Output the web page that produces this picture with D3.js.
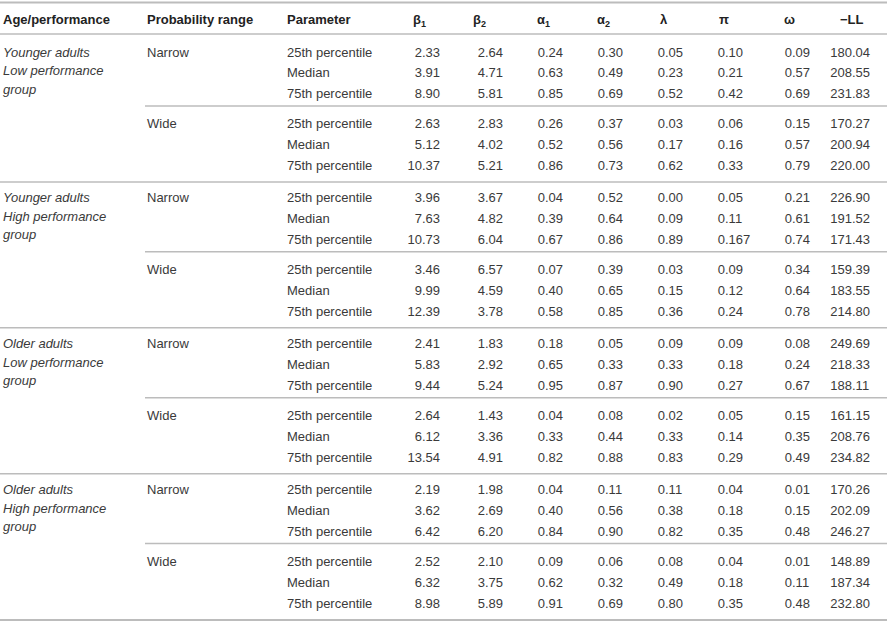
<!DOCTYPE html>
<html>
<head>
<meta charset="utf-8">
<script src="https://cdn.jsdelivr.net/npm/d3@7"></script>
<style>
  html, body { margin: 0; padding: 0; background: #fff; }
  svg text { font-family: "Liberation Sans", Arial, Helvetica, sans-serif; }
</style>
</head>
<body>
<div id="table"></div>
<script>
// Dades de la taula: grups, rangs, paràmetres i una llista per columna
const ageGroups = [
  ["Younger adults", "Low performance", "group"],
  ["Younger adults", "High performance", "group"],
  ["Older adults", "Low performance", "group"],
  ["Older adults", "High performance", "group"]
];
const ranges = ["Narrow", "Wide"];
const params = ["25th percentile", "Median", "75th percentile"];

const beta1  = ["2.33","3.91","8.90","2.63","5.12","10.37","3.96","7.63","10.73","3.46","9.99","12.39","2.41","5.83","9.44","2.64","6.12","13.54","2.19","3.62","6.42","2.52","6.32","8.98"];
const beta2  = ["2.64","4.71","5.81","2.83","4.02","5.21","3.67","4.82","6.04","6.57","4.59","3.78","1.83","2.92","5.24","1.43","3.36","4.91","1.98","2.69","6.20","2.10","3.75","5.89"];
const alpha1 = ["0.24","0.63","0.85","0.26","0.52","0.86","0.04","0.39","0.67","0.07","0.40","0.58","0.18","0.65","0.95","0.04","0.33","0.82","0.04","0.40","0.84","0.09","0.62","0.91"];
const alpha2 = ["0.30","0.49","0.69","0.37","0.56","0.73","0.52","0.64","0.86","0.39","0.65","0.85","0.05","0.33","0.87","0.08","0.44","0.88","0.11","0.56","0.90","0.06","0.32","0.69"];
const lambda = ["0.05","0.23","0.52","0.03","0.17","0.62","0.00","0.09","0.89","0.03","0.15","0.36","0.09","0.33","0.90","0.02","0.33","0.83","0.11","0.38","0.82","0.08","0.49","0.80"];
const piVals = ["0.10","0.21","0.42","0.06","0.16","0.33","0.05","0.11","0.167","0.09","0.12","0.24","0.09","0.18","0.27","0.05","0.14","0.29","0.04","0.18","0.35","0.04","0.18","0.35"];
const omega  = ["0.09","0.57","0.69","0.15","0.57","0.79","0.21","0.61","0.74","0.34","0.64","0.78","0.08","0.24","0.67","0.15","0.35","0.49","0.01","0.15","0.48","0.01","0.11","0.48"];
const negLL  = ["180.04","208.55","231.83","170.27","200.94","220.00","226.90","191.52","171.43","159.39","183.55","214.80","249.69","218.33","188.11","161.15","208.76","234.82","170.26","202.09","246.27","148.89","187.34","232.80"];

// Capçaleres: [lletra, subíndex]
const headers = [["β","1"],["β","2"],["α","1"],["α","2"],["λ",""],["π",""],["ω",""],["−LL",""]];
const columns = [beta1, beta2, alpha1, alpha2, lambda, piVals, omega, negLL];

const W = 887, H = 622;
const lineColor = "#bcbcbc";
const textColor = "#3a3a3a";

const svg = d3.select("#table").append("svg")
    .attr("width", W)
    .attr("height", H);

// Files: índex de grup, rang i paràmetre, i posició en "ranures" (amb espais entre blocs)
const rows = [];
ageGroups.forEach((g, gi) => {
    ranges.forEach((r, ri) => {
        params.forEach((p, pi) => {
            const i = rows.length;
            const slot = i + (gi * 2 + ri - gi) * 0.473 + gi * 0.57;
            rows.push({ i, gi, ri, pi, slot });
        });
    });
});

const lastSlot = rows[rows.length - 1].slot;
const y = d3.scaleLinear().domain([0, lastSlot]).range([52, 603]);

// Columnes: x del punt decimal i x de la capçalera
const colX = d3.scalePoint().domain(d3.range(columns.length)).range([0, 1]);
const decX = [422, 485, 545, 605, 665, 725, 792, 852];
const headX = [413, 473, 537, 597, 660, 719, 784, 840];

// Línies horitzontals
const hline = (x1, yy, w) => svg.append("line")
    .attr("x1", x1).attr("x2", W)
    .attr("y1", yy).attr("y2", yy)
    .attr("stroke", lineColor)
    .attr("stroke-width", w);

hline(0, 2.5, 2);
hline(0, 34, 1.5);
rows.filter(d => d.pi === 0).forEach(d => {
    if (d.ri === 1) hline(145, y(d.slot) - 18, 1.5);
    else if (d.gi > 0) hline(0, y(d.slot) - 16, 1.5);
});
hline(0, y(lastSlot) + 17, 2);

// Capçalera
const head = svg.append("g")
    .attr("font-weight", "bold")
    .attr("font-size", 13)
    .attr("fill", "#222");

head.append("text").attr("x", 3).attr("y", 19).attr("dy", "0.35em").text("Age/performance");
head.append("text").attr("x", 147).attr("y", 19).attr("dy", "0.35em").text("Probability range");
head.append("text").attr("x", 287).attr("y", 19).attr("dy", "0.35em").text("Parameter");

headers.forEach((h, k) => {
    const t = head.append("text")
        .attr("x", headX[k]).attr("y", 19).attr("dy", "0.35em");
    t.append("tspan").text(h[0]);
    if (h[1]) {
        t.append("tspan")
            .attr("font-size", 9)
            .attr("dy", "0.35em")
            .text(h[1]);
    }
});

// Cos de la taula
const body = svg.append("g")
    .attr("font-size", 13)
    .attr("fill", textColor);

// Etiquetes de grup (cursiva, tres línies)
rows.filter(d => d.ri === 0 && d.pi === 0).forEach(d => {
    ageGroups[d.gi].forEach((line, li) => {
        body.append("text")
            .attr("x", 3)
            .attr("y", y(d.slot) + li * 18.5)
            .attr("dy", "0.35em")
            .attr("font-style", "italic")
            .text(line);
    });
});

// Rang de probabilitat
body.selectAll(".range")
    .data(rows.filter(d => d.pi === 0))
    .join("text")
    .attr("class", "range")
    .attr("x", 147)
    .attr("y", d => y(d.slot))
    .attr("dy", "0.35em")
    .text(d => ranges[d.ri]);

// Paràmetre
body.selectAll(".param")
    .data(rows)
    .join("text")
    .attr("class", "param")
    .attr("x", 287)
    .attr("y", d => y(d.slot))
    .attr("dy", "0.35em")
    .text(d => params[d.pi]);

// Valors alineats pel punt decimal
columns.forEach((col, k) => {
    const g = body.append("g");
    g.selectAll(".int")
        .data(rows)
        .join("text")
        .attr("class", "int")
        .attr("x", decX[k])
        .attr("y", d => y(d.slot))
        .attr("dy", "0.35em")
        .attr("text-anchor", "end")
        .text(d => col[d.i].split(".")[0]);
    g.selectAll(".frac")
        .data(rows)
        .join("text")
        .attr("class", "frac")
        .attr("x", decX[k])
        .attr("y", d => y(d.slot))
        .attr("dy", "0.35em")
        .text(d => "." + col[d.i].split(".")[1]);
});
</script>
</body>
</html>
